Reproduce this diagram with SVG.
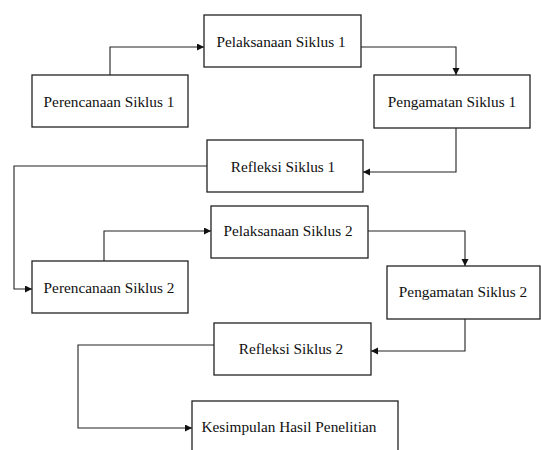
<svg xmlns="http://www.w3.org/2000/svg" width="541" height="450" viewBox="0 0 541 450">
<style>
.box{fill:#fff;stroke:#222;stroke-width:1.3}
.lbl{font-family:"Liberation Serif","Times New Roman",serif;font-size:15.3px;fill:#111;text-anchor:middle}
.con{fill:none;stroke:#222;stroke-width:1.1}
</style>
<defs>
<marker id="arr" markerUnits="userSpaceOnUse" markerWidth="8" markerHeight="8" refX="7" refY="3.5" orient="auto">
<path d="M0,0 L7,3.5 L0,7 z" fill="#111"/>
</marker>
</defs>
<rect width="541" height="450" fill="#fff"/>
<g id="connectors">
<path class="con" d="M110,75 V47 H204" marker-end="url(#arr)"/>
<path class="con" d="M361,47 H456 V75" marker-end="url(#arr)"/>
<path class="con" d="M456,128 V172 H363" marker-end="url(#arr)"/>
<path class="con" d="M207,166 H14 V289 H32" marker-end="url(#arr)"/>
<path class="con" d="M104,261 V231 H211" marker-end="url(#arr)"/>
<path class="con" d="M368,231 H465 V266" marker-end="url(#arr)"/>
<path class="con" d="M465,319 V351 H371" marker-end="url(#arr)"/>
<path class="con" d="M214,345 H78 V428 H192" marker-end="url(#arr)"/>
</g>
<g id="n1"><rect class="box" x="32" y="75" width="156" height="52"/><text class="lbl" x="109" y="107">Perencanaan Siklus 1</text></g>
<g id="n2"><rect class="box" x="204" y="15" width="157" height="52"/><text class="lbl" x="281" y="47">Pelaksanaan Siklus 1</text></g>
<g id="n3"><rect class="box" x="374" y="75" width="156" height="53"/><text class="lbl" x="452" y="107">Pengamatan Siklus 1</text></g>
<g id="n4"><rect class="box" x="207" y="140" width="156" height="52"/><text class="lbl" x="283" y="172">Refleksi Siklus 1</text></g>
<g id="n5"><rect class="box" x="32" y="261" width="156" height="52"/><text class="lbl" x="109" y="293">Perencanaan Siklus 2</text></g>
<g id="n6"><rect class="box" x="211" y="206" width="157" height="52"/><text class="lbl" x="288" y="236">Pelaksanaan Siklus 2</text></g>
<g id="n7"><rect class="box" x="387" y="266" width="153" height="53"/><text class="lbl" x="463" y="297">Pengamatan Siklus 2</text></g>
<g id="n8"><rect class="box" x="214" y="323" width="157" height="52"/><text class="lbl" x="291" y="354">Refleksi Siklus 2</text></g>
<g id="n9"><rect class="box" x="192" y="401" width="206" height="60"/><text class="lbl" x="289" y="432">Kesimpulan Hasil Penelitian</text></g>
</svg>
